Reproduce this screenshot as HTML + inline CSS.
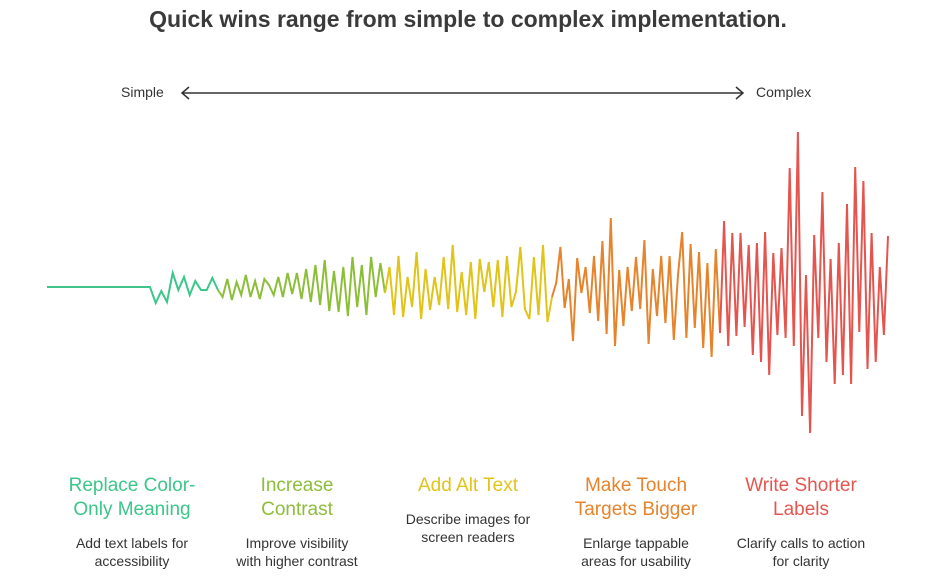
<!DOCTYPE html>
<html><head><meta charset="utf-8"><style>
body{margin:0;background:#fff;font-family:"Liberation Sans",Arial,sans-serif;}
#wrap{position:relative;width:936px;height:581px;overflow:hidden;}
h1{position:absolute;left:0;width:936px;top:6px;margin:0;text-align:center;font-size:23px;font-weight:bold;color:#3a3a3a;}
.t{position:absolute;width:200px;text-align:center;font-size:19px;line-height:24px;}
.d{position:absolute;width:200px;text-align:center;font-size:14px;line-height:18px;color:#333;}
.lab{position:absolute;top:84px;font-size:14px;color:#333;}
</style></head><body>
<div id="wrap">
<h1>Quick wins range from simple to complex implementation.</h1>
<div class="lab" style="left:121px">Simple</div>
<div class="lab" style="left:756px">Complex</div>
<svg width="936" height="581" style="position:absolute;left:0;top:0" id="svg">
<g stroke="#333" stroke-width="1.5" fill="none">
<line x1="182" y1="93" x2="743" y2="93"/>
<polyline points="189,87 182,93 189,99"/>
<polyline points="736,87 743,93 736,99"/>
</g>
<g id="waves"></g>
</svg>
<div class="t" style="left:32px;top:474px;color:#3cc68a">Replace Color-<br>Only Meaning</div>
<div class="d" style="left:32px;top:534px">Add text labels for<br>accessibility</div>
<div class="t" style="left:197px;top:474px;color:#8dbe3a">Increase<br>Contrast</div>
<div class="d" style="left:197px;top:534px">Improve visibility<br>with higher contrast</div>
<div class="t" style="left:368px;top:474px;color:#e0c419">Add Alt Text</div>
<div class="d" style="left:368px;top:510px">Describe images for<br>screen readers</div>
<div class="t" style="left:536px;top:474px;color:#e5842c">Make Touch<br>Targets Bigger</div>
<div class="d" style="left:536px;top:534px">Enlarge tappable<br>areas for usability</div>
<div class="t" style="left:701px;top:474px;color:#e5554f">Write Shorter<br>Labels</div>
<div class="d" style="left:701px;top:534px">Clarify calls to action<br>for clarity</div>
</div>
<script>
const segmentNames=["replace-color","increase-contrast","alt-text","touch-targets","shorter-labels"];
const segmentColors=["#3cc68a","#8dbe3a","#e0c419","#e5842c","#e5554f"];
const greenValues=[0,0,-16,-4,-15,14,-3,10,-8,6,-3,-3,9,-3];
const limeValues=[-10,8,-13,5,-8,12,-10,6,-12,8,2,-8,10,-10,14,-7,14,-12,18,-15,22,-18,27,-24,16,-25,20,-29,30,-20,22,-28,30,-10,24,-6];
const yellowValues=[20,-28,31,-30,10,-20,35,-32,18,-23,10,-18,30,-22,42,-25,15,-28,25,-32,28,-5,25,-20,27,-30,31,-20,-5,40,-22,-32,30,-28,42,-35,-10];
const orangeValues=[4,40,-21,8,-54,29,-6,20,-26,31,-34,46,-47,69,-59,17,-39,20,-24,30,-22,47,-57,18,-29,31,-36,31,-53,12,55,-51,43,-41,35,-61,24,-70,38,-46];
const redValues=[66,-59,54,-49,54,-40,42,-68,44,-75,55,-88,34,-48,39,-51,119,-59,155,-129,12,-146,52,-51,95,-75,28,-97,44,-88,83,-97,120,-45,106,-82,54,-75,20,-48,51];
const series=[greenValues,limeValues,yellowValues,orangeValues,redValues];
const bounds=[218,385,552,720,888];
const centerY=287;
function yScale(v){return centerY-v;}
const g=document.getElementById('waves');
let prev=[47,centerY];
series.forEach((vals,si)=>{
  let pts=[prev];
  if(si===0){
    pts.push([150,yScale(0)]);
    const rest=vals.slice(2), x0=150, x1=bounds[0];
    rest.forEach((v,i)=>pts.push([x0+(x1-x0)*(i+1)/rest.length,yScale(v)]));
  } else {
    const x0=bounds[si-1], x1=bounds[si];
    vals.forEach((v,i)=>pts.push([x0+(x1-x0)*(i+1)/vals.length,yScale(v)]));
  }
  const pl=document.createElementNS('http://www.w3.org/2000/svg','polyline');
  pl.setAttribute('points',pts.map(p=>p[0].toFixed(1)+','+p[1].toFixed(1)).join(' '));
  pl.setAttribute('fill','none');
  pl.setAttribute('stroke',segmentColors[si]);
  pl.setAttribute('stroke-width','2');
  pl.setAttribute('stroke-linejoin','miter');
  
  
  g.appendChild(pl);
  prev=pts[pts.length-1];
});
</script>
</body></html>
